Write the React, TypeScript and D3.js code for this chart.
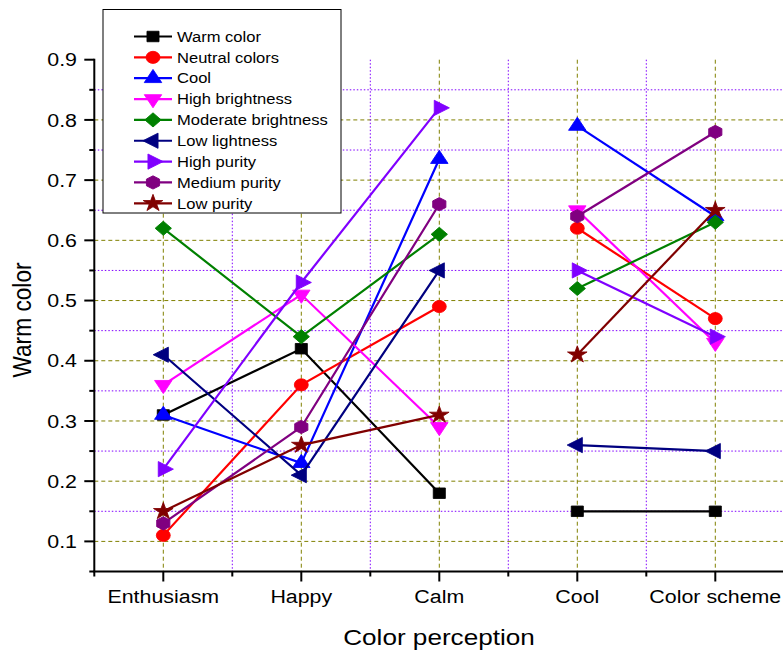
import { line, scaleLinear, symbol, symbolCircle, symbolSquare, symbolStar, symbolTriangle } from 'd3'

const categories = ['Enthusiasm', 'Happy', 'Calm', 'Cool', 'Color scheme']
// the first three perceptions and the last two are drawn as separate runs
const segments = [
  [0, 1, 2],
  [3, 4],
]

const seriesNames = [
  'Warm color',
  'Neutral colors',
  'Cool',
  'High brightness',
  'Moderate brightness',
  'Low lightness',
  'High purity',
  'Medium purity',
  'Low purity',
]

const warmColor = [0.31, 0.42, 0.18, 0.15, 0.15]
const neutralColors = [0.11, 0.36, 0.49, 0.62, 0.47]
const cool = [0.31, 0.23, 0.735, 0.79, 0.64]
const highBrightness = [0.36, 0.51, 0.29, 0.65, 0.43]
const moderateBrightness = [0.62, 0.44, 0.61, 0.52, 0.63]
const lowLightness = [0.41, 0.21, 0.55, 0.26, 0.25]
const highPurity = [0.22, 0.53, 0.82, 0.55, 0.44]
const mediumPurity = [0.13, 0.29, 0.66, 0.64, 0.78]
const lowPurity = [0.15, 0.26, 0.31, 0.41, 0.65]

const seriesValues = [
  warmColor,
  neutralColors,
  cool,
  highBrightness,
  moderateBrightness,
  lowLightness,
  highPurity,
  mediumPurity,
  lowPurity,
]

const majorYTicks = [0.1, 0.2, 0.3, 0.4, 0.5, 0.6, 0.7, 0.8, 0.9]
const minorYTicks = [0.05, 0.15, 0.25, 0.35, 0.45, 0.55, 0.65, 0.75, 0.85]

const colors = ['#000000', '#ff0000', '#0000ff', '#ff00ff', '#008000', '#000080', '#8000ff', '#800080', '#800000']
const markers = ['square', 'circle', 'up', 'down', 'diamond', 'left', 'right', 'hexagon', 'star'] as const

const FONT = "'Liberation Sans', Arial, sans-serif"
const SX = 1.15
const OLIVE = '#808000'
const VIOLET = '#8000ff'

const width = 783
const height = 652

const xScale = scaleLinear().domain([0.5, 5.5]).range([94.3, 784.3])
const yScale = scaleLinear().domain([0.05, 0.9]).range([571.5, 59.7])

function markerPath(kind: (typeof markers)[number]): { d: string; rotate: number } {
  switch (kind) {
    case 'square':
      return { d: symbol(symbolSquare, 110)() ?? '', rotate: 0 }
    case 'circle':
      return { d: symbol(symbolCircle, 115)() ?? '', rotate: 0 }
    case 'diamond':
      return { d: symbol(symbolSquare, 100)() ?? '', rotate: 45 }
    case 'up':
      return { d: symbol(symbolTriangle, 100)() ?? '', rotate: 0 }
    case 'down':
      return { d: symbol(symbolTriangle, 100)() ?? '', rotate: 180 }
    case 'left':
      return { d: symbol(symbolTriangle, 100)() ?? '', rotate: -90 }
    case 'right':
      return { d: symbol(symbolTriangle, 100)() ?? '', rotate: 90 }
    case 'star':
      return { d: symbol(symbolStar, 90)() ?? '', rotate: 0 }
    case 'hexagon': {
      const r = 6.6
      const pts = [0, 1, 2, 3, 4, 5].map((i) => {
        const a = (Math.PI / 3) * i + Math.PI / 6
        return `${(r * Math.sin(a)).toFixed(2)},${(-r * Math.cos(a) * 0 + -r * Math.cos(a)).toFixed(2)}`
      })
      return { d: `M${pts.join('L')}Z`, rotate: 30 }
    }
  }
}

function Marker({ x, y, kind, color }: { x: number; y: number; kind: (typeof markers)[number]; color: string }) {
  const { d, rotate } = markerPath(kind)
  return (
    <path
      d={d}
      transform={`translate(${x},${y}) scale(${SX},1) rotate(${rotate})`}
      fill={color}
      stroke={color}
      strokeWidth={0.8}
    />
  )
}

function SText({
  x,
  y,
  size,
  anchor = 'start',
  rotate = false,
  children,
}: {
  x: number
  y: number
  size: number
  anchor?: 'start' | 'middle' | 'end'
  rotate?: boolean
  children: string
}) {
  return (
    <text
      transform={`translate(${x},${y}) scale(${SX},1)${rotate ? ' rotate(-90)' : ''}`}
      textAnchor={anchor}
      fontSize={size}
      fontFamily={FONT}
      fill="#000"
    >
      {children}
    </text>
  )
}

export default function App() {
  const left = xScale(0.5)
  const right = width
  const top = yScale(0.9)
  const bottom = yScale(0.05)

  const majorX = categories.map((_, i) => i + 1)
  const minorX = [0.5, 1.5, 2.5, 3.5, 4.5, 5.5]

  const pathFor = line<number>()
    .x((i) => xScale(i + 1))
    .y(() => 0)

  const legendRowY = (i: number) => 36.5 + i * 20.85

  return (
    <div style={{ position: 'absolute', left: 0, top: 0 }}>
      <svg width={width} height={height} viewBox={`0 0 ${width} ${height}`} style={{ display: 'block', background: '#fff' }}>
        {/* grid */}
        <g strokeWidth={1} fill="none">
          {majorYTicks
            .filter((v) => v < 0.9)
            .map((v) => (
              <line key={`gy${v}`} x1={left} x2={right} y1={yScale(v)} y2={yScale(v)} stroke={OLIVE} strokeDasharray="4,3" />
            ))}
          {minorYTicks
            .filter((v) => v > 0.05)
            .map((v) => (
              <line key={`gmy${v}`} x1={left} x2={right} y1={yScale(v)} y2={yScale(v)} stroke={VIOLET} strokeDasharray="1.5,2" />
            ))}
          {majorX.map((v) => (
            <line key={`gx${v}`} x1={xScale(v)} x2={xScale(v)} y1={top} y2={bottom} stroke={OLIVE} strokeDasharray="4,3" />
          ))}
          {minorX
            .filter((v) => v > 0.5)
            .map((v) => (
              <line key={`gmx${v}`} x1={xScale(v)} x2={xScale(v)} y1={top} y2={bottom} stroke={VIOLET} strokeDasharray="1.5,2" />
            ))}
        </g>

        {/* series */}
        {seriesValues.map((values, s) => (
          <g key={seriesNames[s]}>
            {segments.map((seg) => {
              const gen = pathFor.y((i) => yScale(values[i]))
              return <path key={seg.join('-')} d={gen(seg) ?? ''} fill="none" stroke={colors[s]} strokeWidth={2.2} />
            })}
            {values.map((v, i) => (
              <Marker key={i} x={xScale(i + 1)} y={yScale(v)} kind={markers[s]} color={colors[s]} />
            ))}
          </g>
        ))}

        {/* axes */}
        <g stroke="#000" strokeWidth={2}>
          <line x1={left} x2={left} y1={top - 1} y2={bottom} />
          <line x1={left - 1} x2={right} y1={bottom} y2={bottom} />
          {majorYTicks.map((v) => (
            <line key={`ty${v}`} x1={left - 10} x2={left} y1={yScale(v)} y2={yScale(v)} />
          ))}
          {minorYTicks.map((v) => (
            <line key={`tmy${v}`} x1={left - 5} x2={left} y1={yScale(v)} y2={yScale(v)} />
          ))}
          {majorX.map((v) => (
            <line key={`tx${v}`} x1={xScale(v)} x2={xScale(v)} y1={bottom} y2={bottom + 10} />
          ))}
          {minorX.map((v) => (
            <line key={`tmx${v}`} x1={xScale(v)} x2={xScale(v)} y1={bottom} y2={bottom + 5} />
          ))}
        </g>

        {majorYTicks.map((v) => (
          <SText key={`ly${v}`} x={77} y={yScale(v) + 6.7} size={18.6} anchor="end">
            {v.toFixed(1)}
          </SText>
        ))}
        {categories.map((c, i) => (
          <SText key={c} x={xScale(i + 1)} y={603} size={18.6} anchor="middle">
            {c}
          </SText>
        ))}
        <SText x={439} y={645} size={22.7} anchor="middle">
          Color perception
        </SText>
        <SText x={30.5} y={320} size={22.7} anchor="middle" rotate>
          Warm color
        </SText>

        {/* legend */}
        <rect x={103} y={9.5} width={238} height={203.5} fill="#fff" stroke="#000" strokeWidth={1} />
        {seriesNames.map((name, s) => (
          <g key={`leg${name}`}>
            <line x1={134} x2={172} y1={legendRowY(s)} y2={legendRowY(s)} stroke={colors[s]} strokeWidth={2.2} />
            <Marker x={153} y={legendRowY(s)} kind={markers[s]} color={colors[s]} />
            <SText x={177} y={legendRowY(s) + 5.2} size={14.4}>
              {name}
            </SText>
          </g>
        ))}
      </svg>
    </div>
  )
}
